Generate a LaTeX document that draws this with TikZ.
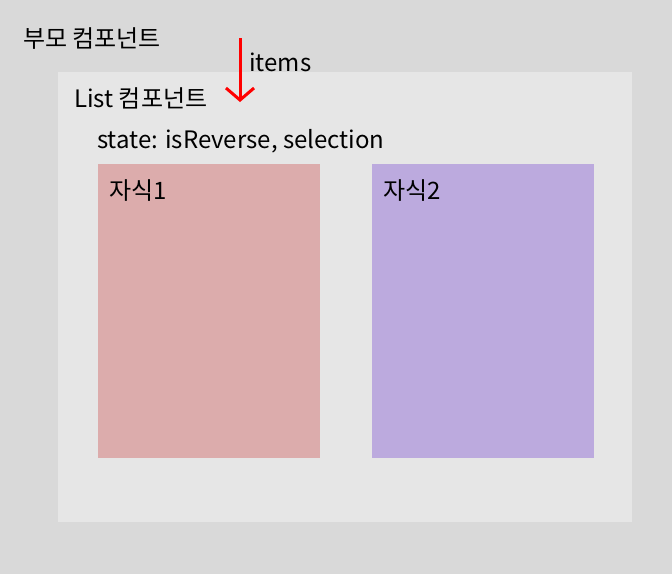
\documentclass[tikz,border=0pt]{standalone}
\usepackage{fontspec}
\setmainfont{Noto Sans CJK KR}
\usetikzlibrary{arrows.meta}
\definecolor{pagebg}{HTML}{D9D9D9}
\definecolor{listbg}{HTML}{E6E6E6}
\definecolor{child1}{HTML}{DCACAC}
\definecolor{child2}{HTML}{BCAADE}

\begin{document}
\begin{tikzpicture}
[x=1pt,y=-1pt,%
  every node/.style={anchor=base west,inner sep=0pt,font=\fontsize{24}{28}\selectfont}]
\fill[pagebg] (0,0) rectangle (672,574);
\useasboundingbox (0,0) rectangle (672,574);
% list component and its children
\fill[listbg] (58,72) rectangle (632,522);
\fill[child1] (98,164) rectangle (320,458);
\fill[child2] (372,164) rectangle (594,458);
\node (parent) at (23,47) {부모 컴포넌트};
\node (list) at (74,107) {List 컴포넌트};
\node (state) at (97,148) {state: isReverse, selection};
\node (c1) at (109,199) {자식1};
\node (c2) at (383,199) {자식2};
\node (items) at (249,71) {items};
% props going down
\coordinate (src) at (240,38);
\coordinate (dst) at (240,102);
\draw[red,line width=3pt,-{Straight Barb[length=12pt,width=28pt,line width=3pt]}] (src) -- (dst);
\end{tikzpicture}
\end{document}
